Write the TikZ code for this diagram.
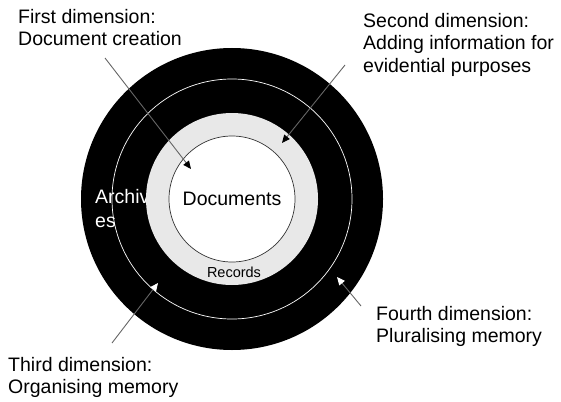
\documentclass[tikz,border=0pt]{standalone}
\usepackage{fontspec}
\setmainfont{Liberation Sans}
\usetikzlibrary{arrows.meta}
\definecolor{ringgray}{gray}{0.91}
\definecolor{linegray}{gray}{0.4}

\begin{document}
\begin{tikzpicture}
  [x=1pt,y=-1pt,
   every node/.style={inner sep=0pt},
   label/.style={anchor=north west, align=left, font=\fontsize{19.5}{22.5}\selectfont},
   ring/.style={circle, minimum size=#1},
   pointer/.style={draw=linegray, line width=0.9pt, -{Triangle[length=8pt,width=7pt,color=black]}},
   whitepointer/.style={draw=linegray, line width=0.9pt, -{Triangle[length=8pt,width=7pt,color=white]}}]
  \useasboundingbox (0,0) rectangle (561,401);

  \node[ring=302pt, fill=black] (outer) at (232,199) {};
  \node[ring=240pt, draw=white, line width=0.7pt] (memory) at (232,199) {};
  \node[anchor=north west, align=left, text=white, font=\fontsize{19.5}{24}\selectfont] (arch) at (95,189) {Archiv\\es};
  \node[ring=172pt, fill=ringgray] (records) at (232,199) {};
  \node[ring=126pt, fill=white, draw=black!80, line width=0.7pt, font=\fontsize{19.5}{24}\selectfont] (docs) at (232,199) {Documents};
  \node[font=\fontsize{14.5}{17}\selectfont] (rec) at (234,272) {Records};

  \node[label] (first) at (18,9) {First dimension:\\Document creation};
  \node[label] (second) at (363,13) {Second dimension:\\Adding information for\\evidential purposes};
  \node[label] (fourth) at (376,306) {Fourth dimension:\\Pluralising memory};
  \node[label] (third) at (8,357) {Third dimension:\\Organising memory};

  \coordinate (p1) at (105,58);  \coordinate (q1) at (191,169);
  \coordinate (p2) at (345,65);  \coordinate (q2) at (282,143);
  \coordinate (p3) at (112,343); \coordinate (q3) at (158,283);
  \coordinate (p4) at (361,306); \coordinate (q4) at (337,277);

  \foreach \from/\to in {p1/q1,p2/q2}
    \draw[pointer] (\from) -- (\to);
  \foreach \from/\to in {p3/q3,p4/q4}
    \draw[whitepointer] (\from) -- (\to);

\end{tikzpicture}
\end{document}
